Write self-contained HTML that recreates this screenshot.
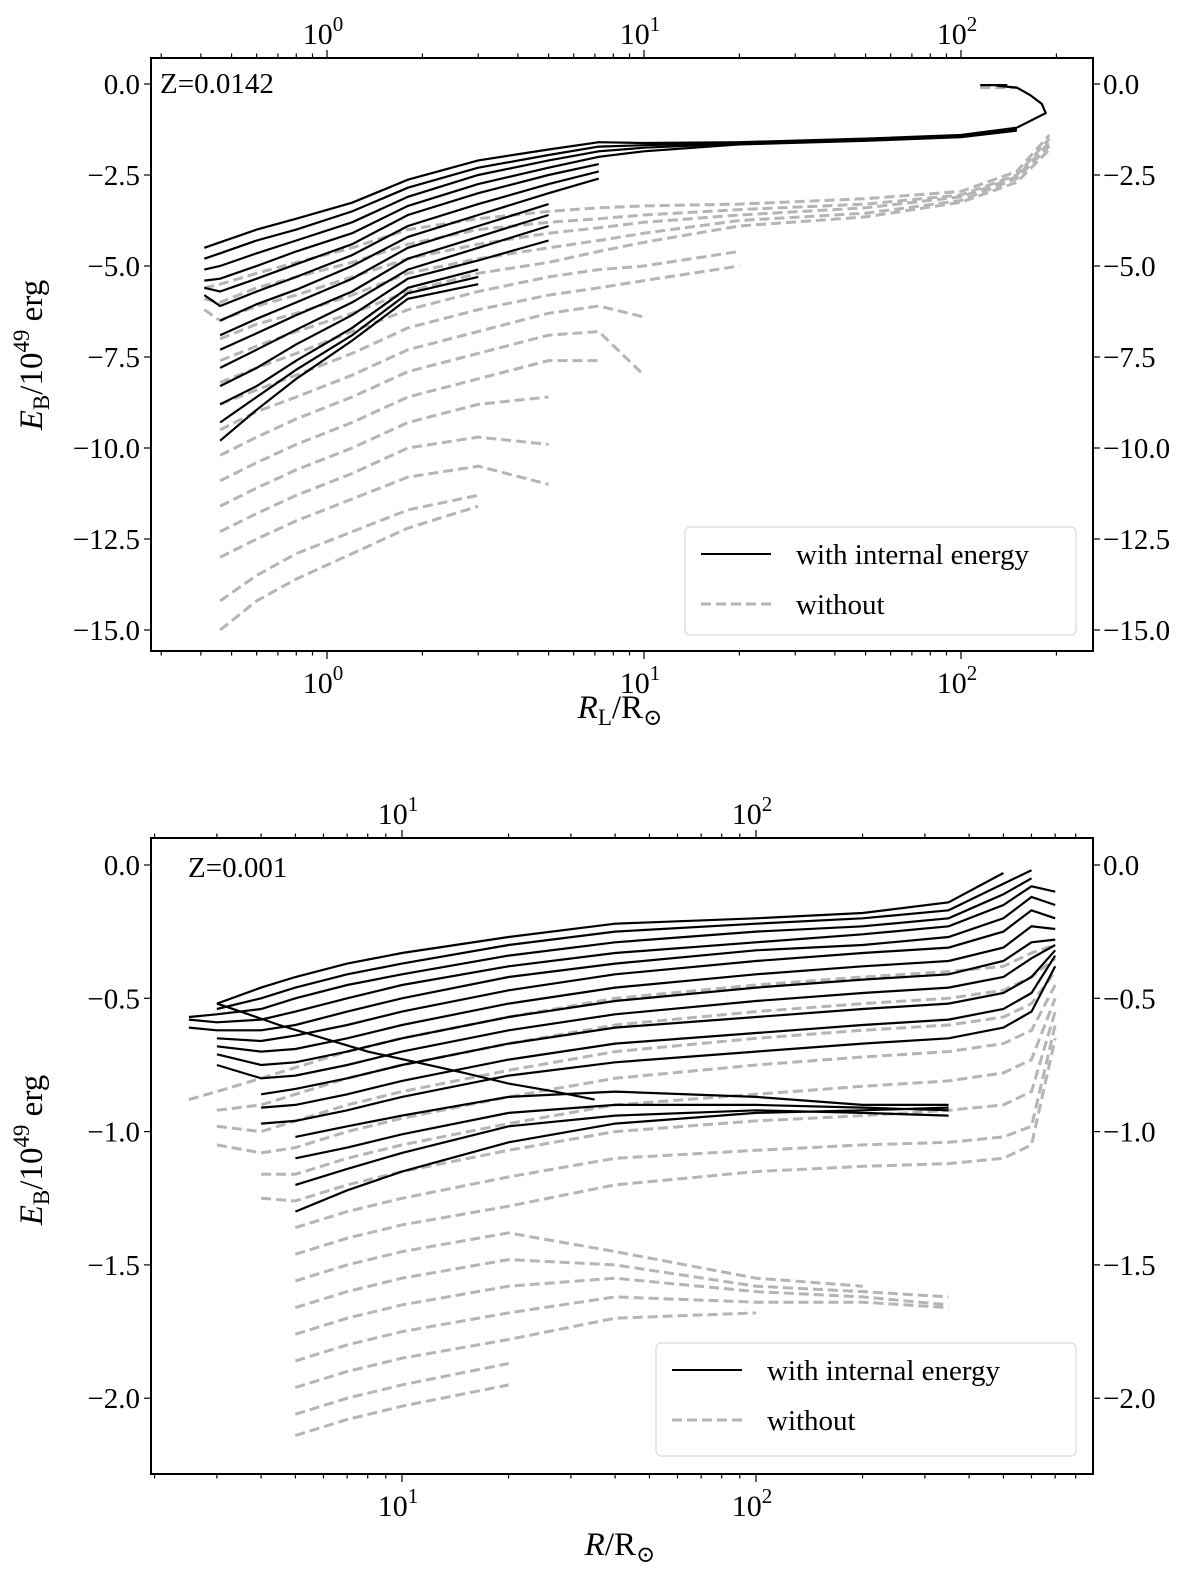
<!DOCTYPE html>
<html><head><meta charset="utf-8">
<style>
html,body{margin:0;padding:0;background:#fff;}
svg text{font-family:"Liberation Serif","DejaVu Serif",serif;fill:#000;}
</style></head>
<body>
<svg id="fig" xmlns="http://www.w3.org/2000/svg" width="1200" height="1565" viewBox="0 0 1200 1565">
<rect x="0" y="0" width="1200" height="1565" fill="#fff"/>
<g id="p1"></g>
<g id="p2"></g>
</svg>
<script>
// ---------- TOP PANEL DATA (Z=0.0142) ----------
const TOP_R = [0.41,0.46,0.6,0.8,1.2,1.8,3,5,7.2,10,20,50,100,150];
const TOP_BLACK = [
 [-4.5,-4.35,-4.0,-3.7,-3.26,-2.63,-2.1,-1.8,-1.6,-1.62,-1.6,-1.5,-1.4,-1.2],
 [-4.8,-4.65,-4.3,-4.0,-3.5,-2.85,-2.3,-1.95,-1.72,-1.68,-1.62,-1.52,-1.42,-1.22],
 [-5.1,-5.0,-4.65,-4.3,-3.8,-3.1,-2.5,-2.1,-1.85,-1.75,-1.64,-1.54,-1.44,-1.25],
 [-5.4,-5.35,-5.0,-4.6,-4.1,-3.35,-2.75,-2.3,-2.0,-1.85,-1.66,-1.56,-1.46,-1.28],
 [-5.6,-5.7,-5.35,-4.95,-4.4,-3.6,-3.0,-2.5,-2.2,null,null,null,null,null],
 [-5.8,-6.1,-5.7,-5.3,-4.7,-3.9,-3.3,-2.75,-2.4,null,null,null,null,null],
 [null,-6.5,-6.05,-5.65,-5.0,-4.2,-3.6,-3.0,-2.6,null,null,null,null,null],
 [null,-6.9,-6.45,-6.0,-5.35,-4.5,-3.9,-3.3,null,null,null,null,null,null],
 [null,-7.3,-6.85,-6.35,-5.7,-4.8,-4.2,-3.6,null,null,null,null,null,null],
 [null,-7.8,-7.3,-6.75,-6.0,-5.1,-4.5,-3.9,null,null,null,null,null,null],
 [null,-8.3,-7.8,-7.15,-6.35,-5.35,-4.85,-4.3,null,null,null,null,null,null],
 [null,-8.8,-8.3,-7.6,-6.7,-5.6,-5.1,null,null,null,null,null,null,null],
 [null,-9.3,-8.6,-7.85,-6.9,-5.75,-5.3,null,null,null,null,null,null,null],
 [null,-9.8,-8.95,-8.1,-7.05,-5.9,-5.5,null,null,null,null,null,null,null]
];
const TOP_HOOK_R = [150,185,180,165,150,130];
const TOP_HOOK_E = [-1.2,-0.8,-0.55,-0.3,-0.1,-0.05];
const TOP_CAP_R = [115,140];
const TOP_CAP_E = [-0.03,-0.03];
const TOP_GR = [0.41,0.46,0.6,0.8,1.2,1.8,3,5,7.2,10,20,50,100,150,190];
const TOP_GRAY = [
 [-5.6,-5.5,-5.2,-4.9,-4.5,-4.0,-3.7,-3.5,-3.4,-3.35,-3.3,-3.15,-2.95,-2.4,-1.4],
 [-5.9,-6.0,-5.6,-5.3,-4.9,-4.4,-4.0,-3.8,-3.7,-3.6,-3.45,-3.3,-3.05,-2.5,-1.5],
 [-6.2,-6.5,-6.1,-5.8,-5.3,-4.8,-4.4,-4.1,-3.95,-3.8,-3.6,-3.4,-3.1,-2.55,-1.6],
 [null,-7.0,-6.6,-6.3,-5.8,-5.2,-4.8,-4.5,-4.3,-4.1,-3.75,-3.55,-3.2,-2.6,-1.7],
 [null,-7.6,-7.2,-6.8,-6.3,-5.7,-5.2,-4.9,-4.6,-4.35,-3.9,-3.65,-3.25,-2.7,-1.8],
 [null,-8.2,-7.8,-7.4,-6.8,-6.2,-5.7,-5.3,-5.1,-5.0,-4.6,null,null,null,null],
 [null,-8.8,-8.4,-8.0,-7.4,-6.7,-6.2,-5.8,-5.6,-5.4,-5.0,null,null,null,null],
 [null,-9.5,-9.0,-8.6,-8.0,-7.3,-6.8,-6.3,-6.1,-6.4,null,null,null,null,null],
 [null,-10.2,-9.7,-9.2,-8.6,-7.9,-7.4,-6.9,-6.8,-8.0,null,null,null,null,null],
 [null,-10.9,-10.4,-9.9,-9.3,-8.6,-8.1,-7.6,-7.6,null,null,null,null,null,null],
 [null,-11.6,-11.1,-10.6,-10.0,-9.3,-8.8,-8.6,null,null,null,null,null,null,null],
 [null,-12.3,-11.8,-11.3,-10.7,-10.0,-9.7,-9.9,null,null,null,null,null,null,null],
 [null,-13.0,-12.5,-12.0,-11.4,-10.8,-10.5,-11.0,null,null,null,null,null,null,null],
 [null,-14.2,-13.5,-12.9,-12.3,-11.7,-11.3,null,null,null,null,null,null,null,null],
 [null,-15.0,-14.2,-13.6,-12.9,-12.2,-11.6,null,null,null,null,null,null,null,null]
];
const TOP_GCAP_R = [115,150];
const TOP_GCAP_E = [-0.1,-0.1];
const TOP_YTICKS = [0,-2.5,-5,-7.5,-10,-12.5,-15];
const TOP_YLABELS = ["0.0","\u22122.5","\u22125.0","\u22127.5","\u221210.0","\u221212.5","\u221215.0"];
const TOP_XDECADES = [0,1,2];

// ---------- BOTTOM PANEL DATA (Z=0.001) ----------
const BOT_R = [2.5,3,4,5,7,10,20,40,100,200,350,500,600,700];
const BOT_BLACK = [
 [null,-0.52,-0.46,-0.42,-0.37,-0.33,-0.27,-0.22,-0.2,-0.18,-0.14,-0.03,null,null],
 [null,-0.54,-0.5,-0.46,-0.41,-0.37,-0.3,-0.25,-0.22,-0.2,-0.17,-0.07,-0.02,null],
 [-0.57,-0.56,-0.54,-0.5,-0.45,-0.41,-0.34,-0.29,-0.25,-0.23,-0.2,-0.11,-0.05,null],
 [-0.58,-0.59,-0.58,-0.55,-0.5,-0.45,-0.38,-0.33,-0.29,-0.26,-0.23,-0.15,-0.08,-0.1],
 [-0.61,-0.62,-0.62,-0.6,-0.55,-0.5,-0.42,-0.37,-0.32,-0.3,-0.27,-0.2,-0.12,-0.15],
 [null,-0.65,-0.66,-0.64,-0.6,-0.55,-0.47,-0.41,-0.36,-0.33,-0.31,-0.25,-0.17,-0.2],
 [null,-0.68,-0.7,-0.69,-0.65,-0.6,-0.52,-0.46,-0.41,-0.38,-0.36,-0.31,-0.23,-0.24],
 [null,-0.71,-0.75,-0.74,-0.7,-0.65,-0.57,-0.51,-0.46,-0.43,-0.41,-0.36,-0.29,-0.28],
 [null,-0.75,-0.8,-0.79,-0.75,-0.7,-0.62,-0.56,-0.51,-0.48,-0.46,-0.42,-0.35,-0.3],
 [null,null,-0.86,-0.84,-0.8,-0.75,-0.67,-0.61,-0.57,-0.54,-0.52,-0.48,-0.42,-0.32],
 [null,null,-0.91,-0.9,-0.86,-0.81,-0.73,-0.67,-0.63,-0.6,-0.58,-0.54,-0.48,-0.34],
 [null,null,-0.97,-0.96,-0.92,-0.87,-0.79,-0.74,-0.7,-0.67,-0.65,-0.61,-0.55,-0.38],
 [null,null,null,-1.02,-0.98,-0.94,-0.87,-0.85,-0.87,-0.9,-0.9,null,null,null],
 [null,null,null,-1.1,-1.06,-1.01,-0.93,-0.9,-0.9,-0.91,-0.92,null,null,null],
 [null,null,null,-1.2,-1.14,-1.08,-0.98,-0.94,-0.92,-0.93,-0.94,null,null,null],
 [null,null,null,-1.3,-1.22,-1.15,-1.04,-0.97,-0.93,-0.92,-0.91,null,null,null]
];
const BOT_ZIG_R = [3,3.5,4.5,6,8,11,15,20,27,35];
const BOT_ZIG_E = [-0.52,-0.55,-0.6,-0.65,-0.7,-0.74,-0.78,-0.82,-0.85,-0.88];
const BOT_GRAY = [
 [-0.88,-0.85,-0.8,-0.76,-0.7,-0.65,-0.57,-0.5,-0.45,-0.42,-0.4,-0.38,-0.33,-0.3],
 [null,-0.92,-0.9,-0.86,-0.8,-0.75,-0.67,-0.6,-0.55,-0.52,-0.5,-0.47,-0.42,-0.35],
 [null,-0.98,-1.0,-0.96,-0.9,-0.85,-0.77,-0.7,-0.65,-0.62,-0.6,-0.57,-0.52,-0.4],
 [null,-1.05,-1.08,-1.06,-1.0,-0.95,-0.87,-0.8,-0.75,-0.72,-0.7,-0.67,-0.62,-0.45],
 [null,null,-1.16,-1.16,-1.1,-1.05,-0.97,-0.9,-0.86,-0.83,-0.81,-0.78,-0.73,-0.5],
 [null,null,-1.25,-1.26,-1.2,-1.15,-1.07,-1.0,-0.96,-0.94,-0.92,-0.9,-0.85,-0.55],
 [null,null,null,-1.36,-1.3,-1.25,-1.17,-1.1,-1.07,-1.05,-1.04,-1.02,-0.98,-0.6],
 [null,null,null,-1.46,-1.4,-1.35,-1.28,-1.2,-1.15,-1.13,-1.12,-1.1,-1.05,-0.65],
 [null,null,null,-1.56,-1.5,-1.45,-1.38,-1.45,-1.55,-1.58,null,null,null,null],
 [null,null,null,-1.66,-1.6,-1.55,-1.48,-1.5,-1.58,-1.6,-1.62,null,null,null],
 [null,null,null,-1.76,-1.7,-1.65,-1.58,-1.55,-1.6,-1.62,-1.65,null,null,null],
 [null,null,null,-1.86,-1.8,-1.75,-1.68,-1.62,-1.64,-1.64,-1.66,null,null,null],
 [null,null,null,-1.96,-1.9,-1.85,-1.78,-1.7,-1.68,null,null,null,null,null],
 [null,null,null,-2.06,-2.0,-1.95,-1.87,null,null,null,null,null,null,null],
 [null,null,null,-2.14,-2.08,-2.03,-1.95,null,null,null,null,null,null,null]
];
const BOT_YTICKS = [0,-0.5,-1,-1.5,-2];
const BOT_YLABELS = ["0.0","\u22120.5","\u22121.0","\u22121.5","\u22122.0"];
const BOT_XDECADES = [1,2];

const NS = "http://www.w3.org/2000/svg";
function mk(tag, attrs, parent){
  const e = document.createElementNS(NS, tag);
  for (const k in attrs) e.setAttribute(k, attrs[k]);
  if (parent) parent.appendChild(e);
  return e;
}

function makeAxes(c){
  c.sx = r => c.x0 + (Math.log10(r) - c.d0) * c.dec;
  c.sy = e => c.yZero + (-e) * c.unit;
  return c;
}

function drawCurve(g, c, rs, es, kind, name){
  let pts = [];
  for (let i = 0; i < rs.length; i++){
    if (es[i] === null || es[i] === undefined) continue;
    pts.push(c.sx(rs[i]).toFixed(1) + "," + c.sy(es[i]).toFixed(1));
  }
  const pl = mk("polyline", {points: pts.join(" "), fill: "none"}, g);
  if (kind === "gray"){
    pl.setAttribute("stroke", "#b5b5b5");
    pl.setAttribute("stroke-width", "3");
    pl.setAttribute("stroke-dasharray", "10,5");
  } else {
    pl.setAttribute("stroke", "#000");
    pl.setAttribute("stroke-width", "2.2");
  }
  
  
}

function drawFrame(g, c){
  const lo = Math.floor(Math.log10(c.xmin)), hi = Math.ceil(Math.log10(c.xmax));
  for (let d = lo; d <= hi; d++){
    for (let m = 1; m <= 9; m++){
      const r = m * Math.pow(10, d);
      if (r < c.xmin || r > c.xmax) continue;
      const x = c.sx(r), len = (m === 1) ? 8 : 4.5;
      const t1 = mk("line", {x1:x, x2:x, y1:c.yb, y2:c.yb+len, stroke:"#000", "stroke-width":1.2}, g);
      
      
      const t2 = mk("line", {x1:x, x2:x, y1:c.yt, y2:c.yt-len, stroke:"#000", "stroke-width":1.2}, g);
      
      
    }
  }
  c.xdec.forEach(d => {
    const x = c.sx(Math.pow(10, d));
    [[c.yb + 42, 'x-tick-label-bottom'], [c.yt - 14, 'x-tick-label-top']].forEach(([y, nm]) => {
      const t = mk("text", {x: x - 4, y: y, "font-size": 30, "text-anchor": "middle"}, g);
      
      
      t.textContent = "10";
      const s = mk("tspan", {dy: -13, "font-size": 21}, t);
      s.textContent = String(d);
    });
  });
  c.yt_vals.forEach((v, i) => {
    const y = c.sy(v);
    const a = mk("line", {x1:c.xl-7, x2:c.xl, y1:y, y2:y, stroke:"#000", "stroke-width":1.2}, g);
    
    
    const b = mk("line", {x1:c.xr, x2:c.xr+7, y1:y, y2:y, stroke:"#000", "stroke-width":1.2}, g);
    
    
    const tl = mk("text", {x:c.xl-11, y:y+10, "font-size":29, "text-anchor":"end"}, g);
    
    
    tl.textContent = c.yl[i];
    const tr = mk("text", {x:c.xr+10, y:y+10, "font-size":29, "text-anchor":"start"}, g);
    
    
    tr.textContent = c.yl[i];
  });
  const fr = mk("rect", {x:c.xl, y:c.yt, width:c.xr-c.xl, height:c.yb-c.yt, fill:"none", stroke:"#000", "stroke-width":2}, g);
  
  
}

function drawLegend(g, lx, ly, w, h){
  const lg = mk("g", {}, g);
  
  
  mk("rect", {x:lx, y:ly, width:w, height:h, rx:5, fill:"#fff", "fill-opacity":0.85, stroke:"#dcdcdc", "stroke-width":1.3}, lg);
  const e1 = mk("g", {}, lg);
  
  
  mk("line", {x1:lx+16, x2:lx+86, y1:ly+27, y2:ly+27, stroke:"#000", "stroke-width":2}, e1);
  const t1 = mk("text", {x:lx+111, y:ly+37, "font-size":29}, e1);
  t1.textContent = "with internal energy";
  const e2 = mk("g", {}, lg);
  
  
  mk("line", {x1:lx+16, x2:lx+86, y1:ly+77, y2:ly+77, stroke:"#b5b5b5", "stroke-width":3, "stroke-dasharray":"10,5"}, e2);
  const t2 = mk("text", {x:lx+111, y:ly+87, "font-size":29}, e2);
  t2.textContent = "without";
}

function yTitle(g, cx, cy){
  const t = mk("text", {x:0, y:0, "font-size":33, "text-anchor":"middle", transform:`translate(${cx},${cy}) rotate(-90)`}, g);
  
  
  const a = mk("tspan", {"font-style":"italic"}, t); a.textContent = "E";
  const b = mk("tspan", {dy:7, "font-size":23}, t); b.textContent = "B";
  const c = mk("tspan", {dy:-7}, t); c.textContent = "/10";
  const d = mk("tspan", {dy:-13, "font-size":23}, t); d.textContent = "49";
  const e = mk("tspan", {dy:13}, t); e.textContent = " erg";
}

function xTitle(g, cx, y, sub){
  const t = mk("text", {x:cx, y:y, "font-size":33, "text-anchor":"middle"}, g);
  
  
  const a = mk("tspan", {"font-style":"italic"}, t); a.textContent = "R";
  if (sub){ const b = mk("tspan", {dy:7, "font-size":23}, t); b.textContent = sub; const c0 = mk("tspan", {dy:-7}, t); c0.textContent = "/R"; }
  else { const c0 = mk("tspan", {}, t); c0.textContent = "/R"; }
  const s = mk("tspan", {dy:7, "font-size":23}, t); s.textContent = "\u2299";
}

// ---- Top panel ----
(function(){
  const g = document.getElementById("p1");
  const c = makeAxes({x0:327, d0:0, dec:317, yZero:84, unit:36.4, xl:151, xr:1093, yt:58, yb:651,
    xmin:0.279, xmax:261, xdec:TOP_XDECADES, yt_vals:TOP_YTICKS, yl:TOP_YLABELS});
  const clip = mk("clipPath", {id:"c1"}, g);
  mk("rect", {x:c.xl, y:c.yt, width:c.xr-c.xl, height:c.yb-c.yt}, clip);
  const data = mk("g", {"clip-path":"url(#c1)"}, g);
  
  
  TOP_GRAY.forEach((es, i) => drawCurve(data, c, TOP_GR, es, "gray", "without-curve-" + (i+1)));
  drawCurve(data, c, TOP_GCAP_R, TOP_GCAP_E, "gray", "without-curve-cap");
  TOP_BLACK.forEach((es, i) => drawCurve(data, c, TOP_R, es, "black", "with-internal-energy-curve-" + (i+1)));
  drawCurve(data, c, TOP_HOOK_R, TOP_HOOK_E, "black", "with-internal-energy-hook");
  drawCurve(data, c, TOP_CAP_R, TOP_CAP_E, "black", "with-internal-energy-cap");
  drawFrame(g, c);
  const z = mk("text", {x:160, y:93, "font-size":29}, g);
  
  
  z.textContent = "Z=0.0142";
  drawLegend(g, 685, 527, 391, 108);
  yTitle(g, 42, 355);
  xTitle(g, 620, 718, "L");
})();

// ---- Bottom panel ----
(function(){
  const g = document.getElementById("p2");
  const c = makeAxes({x0:402, d0:1, dec:354, yZero:865, unit:266.6, xl:151, xr:1093, yt:838, yb:1474,
    xmin:1.95, xmax:895, xdec:BOT_XDECADES, yt_vals:BOT_YTICKS, yl:BOT_YLABELS});
  const clip = mk("clipPath", {id:"c2"}, g);
  mk("rect", {x:c.xl, y:c.yt, width:c.xr-c.xl, height:c.yb-c.yt}, clip);
  const data = mk("g", {"clip-path":"url(#c2)"}, g);
  
  
  BOT_GRAY.forEach((es, i) => drawCurve(data, c, BOT_R, es, "gray", "without-curve-" + (i+1)));
  BOT_BLACK.forEach((es, i) => drawCurve(data, c, BOT_R, es, "black", "with-internal-energy-curve-" + (i+1)));
  drawCurve(data, c, BOT_ZIG_R, BOT_ZIG_E, "black", "with-internal-energy-envelope");
  drawFrame(g, c);
  const z = mk("text", {x:188, y:877, "font-size":29}, g);
  
  
  z.textContent = "Z=0.001";
  drawLegend(g, 656, 1343, 420, 113);
  yTitle(g, 42, 1150);
  xTitle(g, 620, 1555, null);
})();
</script>
</body></html>
